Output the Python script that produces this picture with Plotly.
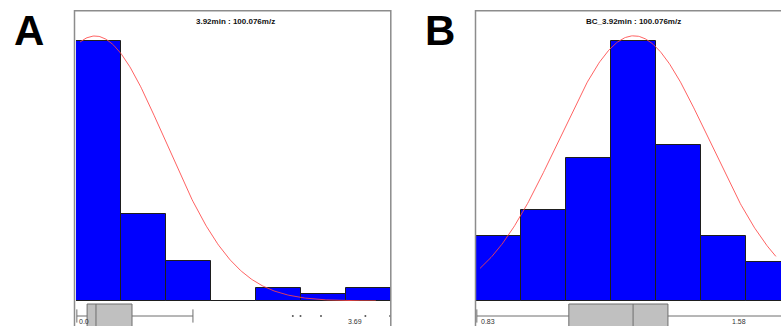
import numpy as np
import plotly.graph_objects as go

W, H = 781, 326

# ---------------- data ----------------
# Panel A (raw)
a_title = "3.92min : 100.076m/z"
a_min, a_max = 0.0, 3.69
a_counts = [39, 13, 6, 0, 2, 1, 2]
a_q1, a_median, a_q3 = 0.13, 0.234, 0.656
a_lowfence, a_upfence = 0.01, 1.37
a_outliers = [2.54, 2.63, 2.87, 3.39, 3.68]
a_fit_mu, a_fit_sigma, a_fit_peak = 0.223, 0.82, 39.75
a_labels = ["0.0", "3.69"]

# Panel B (Box-Cox transformed)
b_title = "BC_3.92min : 100.076m/z"
b_min, b_max = 0.83, 1.58
b_counts = [5, 7, 11, 20, 12, 5, 3]
b_q1, b_median, b_q3 = 1.051, 1.204, 1.287
b_lowfence, b_upfence = 0.832, 1.58
b_outliers = []
b_fit_mu, b_fit_sigma, b_fit_peak = 1.206, 0.179, 20.4
b_labels = ["0.83", "1.58"]

panel_letters = ["A", "B"]

# ---------------- figure ----------------
fig = go.Figure()

def px_x(p):
    return p / W

def px_y(p):
    return 1 - p / H

FRAME = "#8c8c8c"
BLUE = "#0000ff"
BOXFILL = "#c0c0c0"
BOXLINE = "#6e6e6e"

def add_panel(idx, vmin, vmax, counts, q1, med, q3, lf, uf, outl, mu, sig, peak):
    n = len(counts)
    bw = (vmax - vmin) / n
    centers = [vmin + bw * (i + 0.5) for i in range(n)]
    xa = "x" if idx == 0 else "x2"
    yh = "y" if idx == 0 else "y3"
    yb = "y2" if idx == 0 else "y4"
    fig.add_trace(go.Bar(
        x=centers, y=counts, width=bw, xaxis=xa, yaxis=yh,
        marker=dict(color=BLUE, line=dict(color="rgb(30,30,30)", width=1)),
        showlegend=False, hoverinfo="skip"))
    span = vmax - vmin
    xs = np.linspace(vmin + 0.013 * span, vmin + 0.952 * span, 300)
    ys = peak * np.exp(-0.5 * ((xs - mu) / sig) ** 2)
    fig.add_trace(go.Scatter(
        x=xs, y=ys, mode="lines", xaxis=xa, yaxis=yh,
        line=dict(color="rgba(255,70,70,0.85)", width=1),
        showlegend=False, hoverinfo="skip"))
    fig.add_trace(go.Box(
        y=[0], q1=[q1], median=[med], q3=[q3], lowerfence=[lf], upperfence=[uf],
        orientation="h", width=2, whiskerwidth=0.55, xaxis=xa, yaxis=yb,
        fillcolor=BOXFILL, line=dict(color=BOXLINE, width=1),
        boxpoints=False, showlegend=False, hoverinfo="skip"))
    if outl:
        fig.add_trace(go.Scatter(
            x=outl, y=[0] * len(outl), mode="markers", xaxis=xa, yaxis=yb,
            marker=dict(size=2, color="#555555"), showlegend=False, hoverinfo="skip"))

add_panel(0, a_min, a_max, a_counts, a_q1, a_median, a_q3, a_lowfence, a_upfence,
          a_outliers, a_fit_mu, a_fit_sigma, a_fit_peak)
add_panel(1, b_min, b_max, b_counts, b_q1, b_median, b_q3, b_lowfence, b_upfence,
          b_outliers, b_fit_mu, b_fit_sigma, b_fit_peak)

# axes
hist_dom = [px_y(301), px_y(11)]
box_dom = [0, 24 / H]
b_ppu = 315 / (b_max - b_min)
ax_common = dict(visible=False, fixedrange=True)
fig.update_layout(
    xaxis=dict(domain=[px_x(76), px_x(391)], range=[a_min, a_max], anchor="y", **ax_common),
    yaxis=dict(domain=hist_dom, range=[0, max(a_counts) * 290 / 260], anchor="x", **ax_common),
    yaxis2=dict(domain=box_dom, range=[-0.833, 1.167], anchor="x", **ax_common),
    xaxis2=dict(domain=[px_x(476), 1], range=[b_min, b_min + (W - 476) / b_ppu], anchor="y3", **ax_common),
    yaxis3=dict(domain=hist_dom, range=[0, max(b_counts) * 290 / 260], anchor="x2", **ax_common),
    yaxis4=dict(domain=box_dom, range=[-0.833, 1.167], anchor="x2", **ax_common),
)

# frames
shapes = [
    dict(type="rect", xref="paper", yref="paper", x0=px_x(74.5), x1=px_x(390.8),
         y0=-0.1, y1=px_y(10.8), line=dict(color=FRAME, width=1.5), layer="above"),
    dict(type="rect", xref="paper", yref="paper", x0=px_x(475.5), x1=px_x(792),
         y0=-0.1, y1=px_y(10.8), line=dict(color=FRAME, width=1.5), layer="above"),
]

small = dict(family="Liberation Sans, Arial, sans-serif", size=7, color="#333333")
annots = [
    dict(text="<b>%s</b>" % a_title, x=px_x(235), y=px_y(21.5), xref="paper", yref="paper",
         showarrow=False, xanchor="center", yanchor="middle",
         font=dict(family="Liberation Sans, Arial, sans-serif", size=8, color="#111111")),
    dict(text="<b>%s</b>" % b_title, x=px_x(633), y=px_y(21.5), xref="paper", yref="paper",
         showarrow=False, xanchor="center", yanchor="middle",
         font=dict(family="Liberation Sans, Arial, sans-serif", size=8, color="#111111")),
    dict(text=a_labels[0], x=px_x(77), y=px_y(321), xref="paper", yref="paper",
         showarrow=False, xanchor="left", yanchor="middle", font=small),
    dict(text=a_labels[1], x=px_x(363.5), y=px_y(321), xref="paper", yref="paper",
         showarrow=False, xanchor="right", yanchor="middle", font=small),
    dict(text=b_labels[0], x=px_x(479), y=px_y(321), xref="paper", yref="paper",
         showarrow=False, xanchor="left", yanchor="middle", font=small),
    dict(text=b_labels[1], x=px_x(747.5), y=px_y(321), xref="paper", yref="paper",
         showarrow=False, xanchor="right", yanchor="middle", font=small),
    dict(text="<b>%s</b>" % panel_letters[0], x=px_x(29), y=px_y(30), xref="paper", yref="paper",
         showarrow=False, xanchor="center", yanchor="middle",
         font=dict(family="Liberation Sans, Arial, sans-serif", size=42, color="#000000")),
    dict(text="<b>%s</b>" % panel_letters[1], x=px_x(440), y=px_y(30), xref="paper", yref="paper",
         showarrow=False, xanchor="center", yanchor="middle",
         font=dict(family="Liberation Sans, Arial, sans-serif", size=42, color="#000000")),
]

fig.update_layout(
    width=W, height=H, margin=dict(l=0, r=0, t=0, b=0),
    paper_bgcolor="white", plot_bgcolor="white",
    barmode="overlay", bargap=0, showlegend=False,
    shapes=shapes, annotations=annots,
)

fig.write_html("out.html", config={"displayModeBar": False},
               post_script="document.body.style.margin='0';document.body.style.overflow='hidden';")
